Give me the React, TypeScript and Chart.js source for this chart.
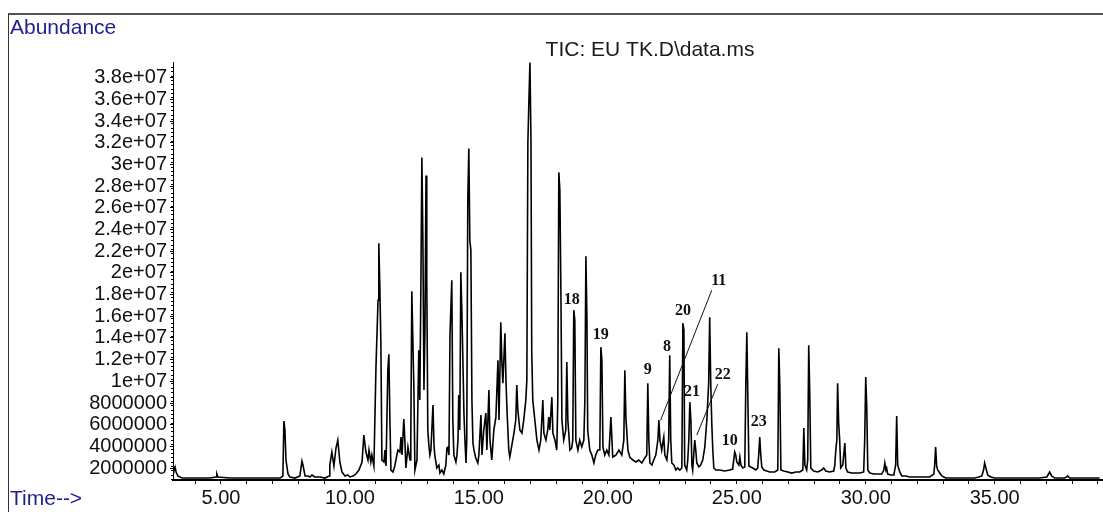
import React, { useEffect, useRef } from "react";
import { Chart, registerables } from "chart.js";

Chart.register(...registerables);

// Trace of the total ion chromatogram: [retention time (min), abundance (millions)]
const trace3to10: [number, number][] = [
  [3.14,1.18],[3.18,1.82],[3.22,2.10],[3.26,1.64],[3.33,1.27],[3.49,1.08],[3.80,1.08],[4.19,1.08],[4.57,1.08],[4.81,1.18],[4.84,1.45],[4.88,1.18],
  [5.35,1.08],[5.93,1.08],[6.43,1.08],[6.90,1.08],[7.29,1.08],[7.40,1.27],[7.44,6.33],[7.48,5.51],[7.52,2.74],[7.60,1.45],[7.67,1.18],[7.87,1.08],
  [8.06,1.27],[8.14,2.65],[8.18,2.28],[8.26,1.27],[8.37,1.27],[8.45,1.18],[8.53,1.36],[8.64,1.18],[8.84,1.18],[9.03,1.08],[9.19,1.27],[9.22,2.28],
  [9.30,3.48],[9.38,2.19],[9.46,3.85],[9.53,4.58],[9.61,2.56],[9.69,1.64],[9.81,1.27],[9.92,1.36],
];

const trace10to15: [number, number][] = [
  [10.00,1.18],[10.12,1.27],[10.23,1.45],[10.35,1.82],[10.47,2.56],[10.54,5.04],[10.62,3.48],[10.70,2.74],[10.74,3.66],[10.81,2.56],[10.85,3.20],
  [10.93,2.19],[11.01,11.31],[11.09,17.48],[11.12,22.73],[11.16,18.68],[11.20,13.52],[11.24,2.74],[11.32,2.56],[11.36,3.66],[11.40,2.19],[11.47,11.03],
  [11.51,12.50],[11.55,6.43],[11.59,1.82],[11.67,1.64],[11.74,2.19],[11.82,3.20],[11.86,3.66],[11.94,3.48],[11.98,4.86],[12.02,3.20],[12.09,6.52],
  [12.13,4.58],[12.17,2.01],[12.25,3.94],[12.33,2.74],[12.36,4.58],[12.40,18.31],[12.44,13.79],[12.48,9.37],[12.52,1.82],[12.60,2.74],[12.67,12.87],
  [12.71,8.27],[12.75,18.40],[12.79,30.65],[12.83,23.00],[12.87,9.19],[12.91,14.72],[12.95,28.99],[12.98,19.32],[13.02,5.51],[13.06,4.12],[13.10,3.20],
  [13.14,3.66],[13.22,7.81],[13.26,4.12],[13.29,3.20],[13.37,2.01],[13.45,2.28],[13.49,1.54],[13.57,1.82],[13.64,1.45],[13.72,2.28],[13.76,3.85],
  [13.80,3.94],[13.84,3.20],[13.88,14.25],[13.95,19.32],[13.99,6.43],[14.03,3.20],[14.11,2.56],[14.15,3.20],[14.19,4.58],[14.22,8.73],[14.26,5.51],
  [14.30,20.06],[14.34,16.56],[14.38,11.95],[14.42,7.07],[14.46,4.58],[14.50,2.47],[14.53,4.58],[14.57,26.69],[14.61,31.48],[14.65,23.00],[14.69,22.08],
  [14.73,8.27],[14.77,4.31],[14.81,3.66],[14.88,2.93],
];

const trace15to20: [number, number][] = [
  [14.96,2.47],[15.00,3.20],[15.08,6.89],[15.12,3.20],[15.19,5.51],[15.27,7.07],[15.31,3.66],[15.39,9.19],[15.43,4.58],[15.50,2.74],[15.58,5.51],
  [15.66,6.70],[15.74,11.95],[15.78,6.43],[15.81,10.11],[15.85,15.45],[15.89,11.95],[15.93,9.83],[16.01,14.44],[16.05,10.11],[16.09,7.35],[16.16,3.66],
  [16.20,3.02],[16.28,4.12],[16.36,5.23],[16.43,6.43],[16.47,9.65],[16.51,7.35],[16.59,5.51],[16.67,5.23],[16.74,6.43],[16.82,8.27],[16.86,10.11],
  [16.90,32.03],[16.94,35.90],[16.98,39.40],[17.02,32.21],[17.05,12.69],[17.09,8.27],[17.17,6.43],[17.25,4.58],[17.33,3.66],[17.40,4.58],[17.48,8.27],
  [17.52,5.23],[17.60,4.58],[17.67,5.51],[17.71,6.70],[17.75,5.51],[17.83,8.54],[17.87,5.23],[17.95,4.58],[18.02,3.66],[18.06,8.27],[18.10,29.27],
  [18.14,27.61],[18.18,18.40],[18.22,6.43],[18.29,4.58],[18.37,5.51],[18.41,11.77],[18.45,6.43],[18.53,3.66],[18.60,3.85],[18.64,4.58],[18.68,16.56],
  [18.72,15.64],[18.76,4.58],[18.84,3.66],[18.91,4.58],[18.99,3.94],[19.07,4.58],[19.11,8.27],[19.15,21.53],[19.19,15.64],[19.22,5.51],[19.30,3.66],
  [19.38,3.20],[19.46,2.47],[19.53,3.20],[19.61,3.66],[19.69,3.66],[19.73,13.15],[19.77,11.95],[19.81,3.94],[19.88,3.20],[19.96,3.66],
];

const trace20to25: [number, number][] = [
  [20.04,3.20],[20.12,6.70],[20.16,4.58],[20.19,3.02],[20.31,3.20],[20.43,3.66],[20.54,3.20],[20.62,4.58],[20.66,11.03],[20.70,6.70],[20.78,3.66],
  [20.85,3.02],[20.97,2.74],[21.09,2.56],[21.20,2.74],[21.32,2.47],[21.43,2.93],[21.51,3.20],[21.55,9.83],[21.59,4.58],[21.63,2.47],[21.71,2.28],
  [21.78,2.74],[21.86,3.20],[21.94,4.58],[21.98,6.43],[22.02,4.58],[22.09,3.66],[22.13,4.31],[22.17,4.86],[22.21,3.20],[22.29,2.74],[22.36,4.58],
  [22.40,12.41],[22.44,4.58],[22.48,2.47],[22.56,2.28],[22.64,1.82],[22.71,2.01],[22.79,1.82],[22.87,2.01],[22.91,15.36],[22.95,14.72],[22.98,2.28],
  [23.06,1.82],[23.10,2.74],[23.14,4.58],[23.18,8.08],[23.22,6.43],[23.26,2.28],[23.29,1.82],[23.33,3.20],[23.37,4.58],[23.41,3.66],[23.45,2.47],
  [23.53,2.10],[23.60,2.28],[23.68,2.74],[23.76,3.94],[23.84,6.43],[23.91,9.83],[23.95,15.91],[23.99,9.83],[24.03,6.15],[24.07,3.66],[24.11,2.01],
  [24.19,1.82],[24.34,1.82],[24.53,1.73],[24.73,1.82],[24.84,1.91],[24.88,2.74],[24.92,3.48],[24.96,3.20],[25.00,2.56],
];

const trace25to39: [number, number][] = [
  [25.08,2.28],[25.12,3.02],[25.16,2.28],[25.23,2.01],[25.31,2.10],[25.35,9.65],[25.39,14.53],[25.43,8.27],[25.47,2.19],[25.54,2.10],[25.62,2.01],
  [25.74,1.82],[25.81,2.01],[25.85,3.20],[25.89,4.86],[25.93,3.20],[25.97,2.10],[26.05,1.82],[26.16,1.73],[26.28,1.64],[26.47,1.64],[26.59,1.82],
  [26.63,13.06],[26.67,9.47],[26.71,1.82],[26.82,1.73],[26.98,1.64],[27.13,1.54],[27.29,1.64],[27.44,1.64],[27.56,1.82],[27.60,5.69],[27.64,2.28],
  [27.71,1.82],[27.75,2.74],[27.79,13.33],[27.83,8.73],[27.87,2.01],[27.98,1.73],[28.14,1.64],[28.29,1.82],[28.37,2.01],[28.45,1.73],[28.60,1.64],
  [28.76,1.73],[28.80,2.28],[28.84,3.66],[28.88,4.58],[28.91,9.83],[28.95,6.15],[28.99,4.58],[29.03,2.01],[29.11,2.28],[29.19,4.31],[29.23,2.01],
  [29.30,1.64],[29.46,1.54],[29.61,1.54],[29.77,1.54],[29.92,1.64],[29.96,4.58],[30.00,10.39],[30.04,7.62],[30.08,1.82],[30.16,1.54],[30.31,1.45],
  [30.47,1.45],[30.62,1.45],[30.70,1.82],[30.74,2.47],[30.78,1.82],[30.81,2.01],[30.85,1.45],[30.97,1.36],[31.09,1.36],[31.16,2.28],[31.20,6.79],
  [31.24,2.28],[31.32,1.64],[31.40,1.27],[31.55,1.27],[31.71,1.18],[31.86,1.18],[32.02,1.18],[32.17,1.18],[32.33,1.18],[32.48,1.18],[32.64,1.45],
  [32.67,2.19],[32.71,3.94],[32.75,2.19],[32.79,1.82],[32.87,1.54],[32.95,1.27],[33.10,1.08],[33.26,1.08],[33.45,1.08],[33.64,1.08],[33.84,1.08],
  [34.03,1.08],[34.23,1.08],[34.38,1.18],[34.50,1.27],[34.57,1.82],[34.61,2.47],[34.65,2.10],[34.73,1.36],[34.85,1.18],[35.00,1.08],[35.19,1.08],
  [35.58,1.08],[35.97,1.08],[36.36,1.08],[36.74,1.08],[37.02,1.18],[37.09,1.45],[37.13,1.64],[37.21,1.27],[37.33,1.08],[37.71,1.08],[37.79,1.18],
  [37.83,1.27],[37.91,1.08],[38.29,1.08],[38.68,1.08],[39.07,1.08],
];

// Axes
const xMin = 3.14;
const xMax = 39.2;
const yMin = 0.9;
const yMax = 39.45;
const xTickValues = [4,5,6,7,8,9,10,11,12,13,14,15,16,17,18,19,20,21,22,23,24,25,26,27,28,29,30,31,32,33,34,35,36,37,38,39];
const xLabelValues = [5, 10, 15, 20, 25, 30, 35];
const xLabelTexts = ["5.00", "10.00", "15.00", "20.00", "25.00", "30.00", "35.00"];
const yTickValues = [2,4,6,8,10,12,14,16,18,20,22,24,26,28,30,32,34,36,38];
const yTickLabels = [
  "2000000","4000000","6000000","8000000","1e+07","1.2e+07","1.4e+07","1.6e+07","1.8e+07","2e+07",
  "2.2e+07","2.4e+07","2.6e+07","2.8e+07","3e+07","3.2e+07","3.4e+07","3.6e+07","3.8e+07",
];

// Peak annotations: label, centre of label [time, abundance (millions)]
const peakLabels = ["18", "19", "9", "8", "20", "11", "21", "22", "10", "23"];
const peakLabelTimes = [18.60, 19.73, 21.55, 22.29, 22.91, 24.30, 23.26, 24.46, 24.73, 25.85];
const peakLabelAbund = [17.5, 14.25, 11.03, 13.15, 16.46, 19.23, 9.0, 10.57, 4.49, 6.24];
// Leader lines: [fromTime, fromAbund, toTime, toAbund]
const leaderLines: [number, number, number, number][] = [
  [24.03, 18.40, 22.05, 6.43],
  [24.26, 9.74, 23.45, 5.04],
];

const titleText = "TIC: EU TK.D\\data.ms";

export default function App() {
  const canvasRef = useRef<HTMLCanvasElement | null>(null);

  useEffect(() => {
    const canvas = canvasRef.current;
    if (!canvas) return;
    const points = [...trace3to10, ...trace10to15, ...trace15to20, ...trace20to25, ...trace25to39].map(
      ([x, y]) => ({ x, y })
    );

    const decorations = {
      id: "decorations",
      beforeDraw(chart: any) {
        const ctx = chart.ctx;
        ctx.save();
        ctx.fillStyle = "#ffffff";
        ctx.fillRect(0, 0, chart.width, chart.height);
        ctx.restore();
      },
      afterDraw(chart: any) {
        const ctx = chart.ctx;
        const xs = chart.scales.x;
        const ys = chart.scales.y;
        const area = chart.chartArea;
        ctx.save();
        // frame
        ctx.strokeStyle = "#555";
        ctx.lineWidth = 2;
        ctx.beginPath();
        ctx.moveTo(8, 14);
        ctx.lineTo(chart.width, 14);
        ctx.stroke();
        ctx.strokeStyle = "#333";
        ctx.lineWidth = 1;
        ctx.beginPath();
        ctx.moveTo(8.5, 14);
        ctx.lineTo(8.5, chart.height);
        ctx.stroke();

        // y axis ruler ticks
        ctx.strokeStyle = "#000";
        ctx.lineWidth = 1;
        ctx.beginPath();
        for (let v = 1; v <= 39.2; v += 0.4) {
          const py = Math.round(ys.getPixelForValue(v)) + 0.5;
          ctx.moveTo(area.left - 2, py);
          ctx.lineTo(area.left + 1, py);
        }
        ctx.moveTo(area.left + 0.5, area.top);
        ctx.lineTo(area.left + 0.5, area.bottom);
        ctx.stroke();

        // axis titles
        ctx.fillStyle = "#1f1f8c";
        ctx.font = '21px "Liberation Sans", Arial, sans-serif';
        ctx.textAlign = "left";
        ctx.textBaseline = "middle";
        ctx.fillText("Abundance", 10, 28);
        ctx.fillText("Time-->", 10, 499);

        // title
        ctx.fillStyle = "#1a1a1a";
        ctx.font = '21px "Liberation Sans", Arial, sans-serif';
        ctx.textAlign = "center";
        ctx.fillText(titleText, 650, 50);

        // leader lines
        ctx.strokeStyle = "#111";
        ctx.lineWidth = 1;
        leaderLines.forEach(([t1, a1, t2, a2]) => {
          ctx.beginPath();
          ctx.moveTo(xs.getPixelForValue(t1), ys.getPixelForValue(a1));
          ctx.lineTo(xs.getPixelForValue(t2), ys.getPixelForValue(a2));
          ctx.stroke();
        });

        // peak labels
        ctx.fillStyle = "#111";
        ctx.font = 'bold 16px "Liberation Serif", "Times New Roman", serif';
        ctx.textAlign = "center";
        ctx.textBaseline = "middle";
        peakLabels.forEach((lab, i) => {
          ctx.fillText(lab, xs.getPixelForValue(peakLabelTimes[i]), ys.getPixelForValue(peakLabelAbund[i]));
        });
        ctx.restore();
      },
    };

    const chart = new Chart(canvas, {
      type: "line",
      data: {
        datasets: [
          {
            data: points,
            borderColor: "#000000",
            borderWidth: 1.6,
            pointRadius: 0,
            tension: 0,
            fill: false,
          },
        ],
      },
      options: {
        animation: false,
        responsive: false,
        parsing: false,
        normalized: true,
        layout: { padding: { top: 62, right: 0, bottom: 0, left: 0 } },
        plugins: {
          legend: { display: false },
          tooltip: { enabled: false },
          title: { display: false },
        },
        scales: {
          x: {
            type: "linear",
            min: xMin,
            max: xMax,
            afterFit: (scale: any) => {
              scale.height = 32;
            },
            afterBuildTicks: (scale: any) => {
              scale.ticks = xTickValues.map((v) => ({ value: v }));
            },
            ticks: {
              autoSkip: false,
              maxRotation: 0,
              padding: 2,
              color: "#111",
              font: { family: '"Liberation Sans", Arial, sans-serif', size: 20 },
              callback: (value: any) => {
                const idx = xLabelValues.indexOf(Number(value));
                return idx >= 0 ? xLabelTexts[idx] : "";
              },
            },
            grid: {
              display: true,
              drawOnChartArea: false,
              drawTicks: true,
              tickLength: 4,
              color: "#000",
              lineWidth: 1,
            },
            border: { display: true, color: "#000", width: 2 },
          },
          y: {
            type: "linear",
            min: yMin,
            max: yMax,
            afterFit: (scale: any) => {
              scale.width = 173;
            },
            afterBuildTicks: (scale: any) => {
              scale.ticks = yTickValues.map((v) => ({ value: v }));
            },
            ticks: {
              autoSkip: false,
              padding: 3,
              color: "#111",
              font: { family: '"Liberation Sans", Arial, sans-serif', size: 20, lineHeight: 1 },
              callback: (value: any) => {
                const idx = yTickValues.indexOf(Number(value));
                return idx >= 0 ? yTickLabels[idx] : "";
              },
            },
            grid: {
              display: true,
              drawOnChartArea: false,
              drawTicks: true,
              tickLength: 3,
              color: "#000",
            },
            border: { display: true, color: "#000", width: 1 },
          },
        },
      },
      plugins: [decorations],
    } as any);

    return () => {
      chart.destroy();
    };
  }, []);

  return (
    <div style={{ position: "absolute", left: 0, top: 0, width: 1103, height: 512, background: "#fff" }}>
      <canvas ref={canvasRef} width={1103} height={512} style={{ display: "block" }} />
    </div>
  );
}
